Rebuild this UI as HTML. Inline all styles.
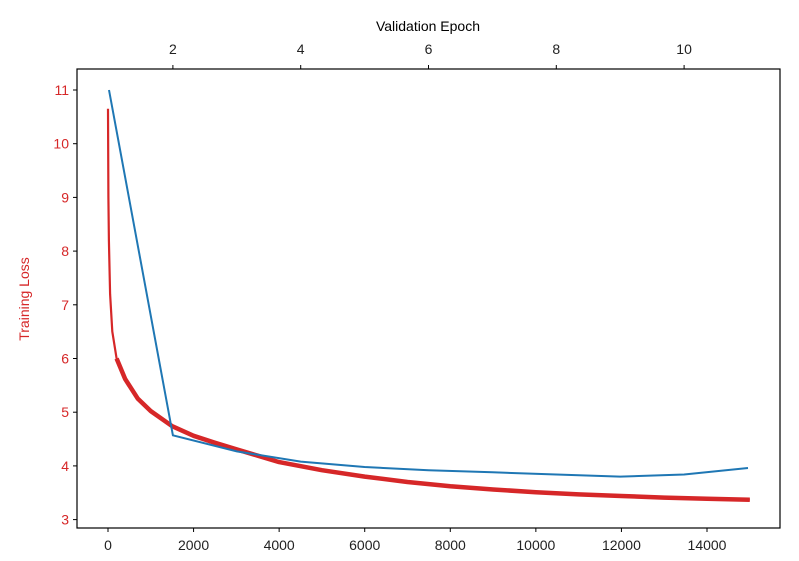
<!DOCTYPE html>
<html><head><meta charset="utf-8"><style>
body{margin:0;background:#fff;}
svg{display:block;font-family:"Liberation Sans","DejaVu Sans",sans-serif;}
</style></head><body>
<svg id="chart" width="799" height="561" viewBox="0 0 799 561">
<rect x="0" y="0" width="799" height="561" fill="#fff"/>
<g id="marks"></g>
<g id="axes"></g>
<rect x="77" y="69" width="703" height="459" fill="none" stroke="#000" stroke-width="1.2"/>
<text x="428" y="31" font-size="14" text-anchor="middle" fill="#000">Validation Epoch</text>
<text x="0" y="0" font-size="14" text-anchor="middle" fill="#d62728" transform="translate(29,299) rotate(-90)">Training Loss</text>
</svg>
<script>
const trainSteps=[0,10,20,50,100,200,400,700,1000,1500,2000,2500,3000,3500,4000,5000,6000,7000,8000,9000,10000,11000,12000,13000,14000,15000];
const trainLoss=[10.65,9.0,8.2,7.2,6.5,6.0,5.62,5.25,5.02,4.74,4.56,4.43,4.31,4.19,4.07,3.92,3.8,3.7,3.62,3.56,3.51,3.47,3.44,3.41,3.39,3.37];
const valEpochs=[1,2,3,4,5,6,7,8,9,10,11];
const valLoss=[11.0,4.57,4.27,4.08,3.98,3.92,3.88,3.84,3.80,3.84,3.96];
const xTicks=[0,2000,4000,6000,8000,10000,12000,14000];
const topTicks=[2,4,6,8,10];
const yTicks=[3,4,5,6,7,8,9,10,11];

const NS="http://www.w3.org/2000/svg";
const xs=v=>108+v*(599/14000);
const xe=e=>109+(e-1)*63.9;
const ys=v=>519.6-(v-3)*53.7;
const marks=document.getElementById('marks'),axes=document.getElementById('axes');
function mk(tag,attrs,parent){const el=document.createElementNS(NS,tag);for(const k in attrs)el.setAttribute(k,attrs[k]);parent.appendChild(el);return el;}

const pts=trainSteps.map((s,i)=>[xs(s),ys(trainLoss[i]),s]);
let d=pts.map((p,i)=>(i?'L':'M')+p[0].toFixed(1)+','+p[1].toFixed(1)).join('');
const thin=mk('path',{d:d,fill:'none',stroke:'#d62728','stroke-width':2.2,'stroke-linejoin':'round'},marks);


const late=pts.filter(p=>p[2]>=200);
let dl=late.map((p,i)=>(i?'L':'M')+p[0].toFixed(1)+','+p[1].toFixed(1)).join('');
const band=mk('path',{d:dl,fill:'none',stroke:'#d62728','stroke-width':4.5,'stroke-linejoin':'round'},marks);


let d2=valEpochs.map((e,i)=>(i?'L':'M')+xe(e).toFixed(1)+','+ys(valLoss[i]).toFixed(1)).join('');
const vl=mk('path',{d:d2,fill:'none',stroke:'#1f77b4','stroke-width':2},marks);



xTicks.forEach(t=>{const g=mk('g',{},axes);


mk('line',{x1:xs(t),x2:xs(t),y1:528,y2:532,stroke:'#000'},g);
const tx=mk('text',{x:xs(t),y:550,'font-size':14,'text-anchor':'middle',fill:'#222'},g);tx.textContent=t;});
topTicks.forEach(t=>{const g=mk('g',{},axes);


mk('line',{x1:xe(t),x2:xe(t),y1:65,y2:69,stroke:'#000'},g);
const tx=mk('text',{x:xe(t),y:54,'font-size':14,'text-anchor':'middle',fill:'#222'},g);tx.textContent=t;});
yTicks.forEach(t=>{const g=mk('g',{},axes);


mk('line',{x1:73,x2:77,y1:ys(t),y2:ys(t),stroke:'#000'},g);
const tx=mk('text',{x:69,y:ys(t)+5,'font-size':14,'text-anchor':'end',fill:'#d62728'},g);tx.textContent=t;});
</script>
</body></html>
